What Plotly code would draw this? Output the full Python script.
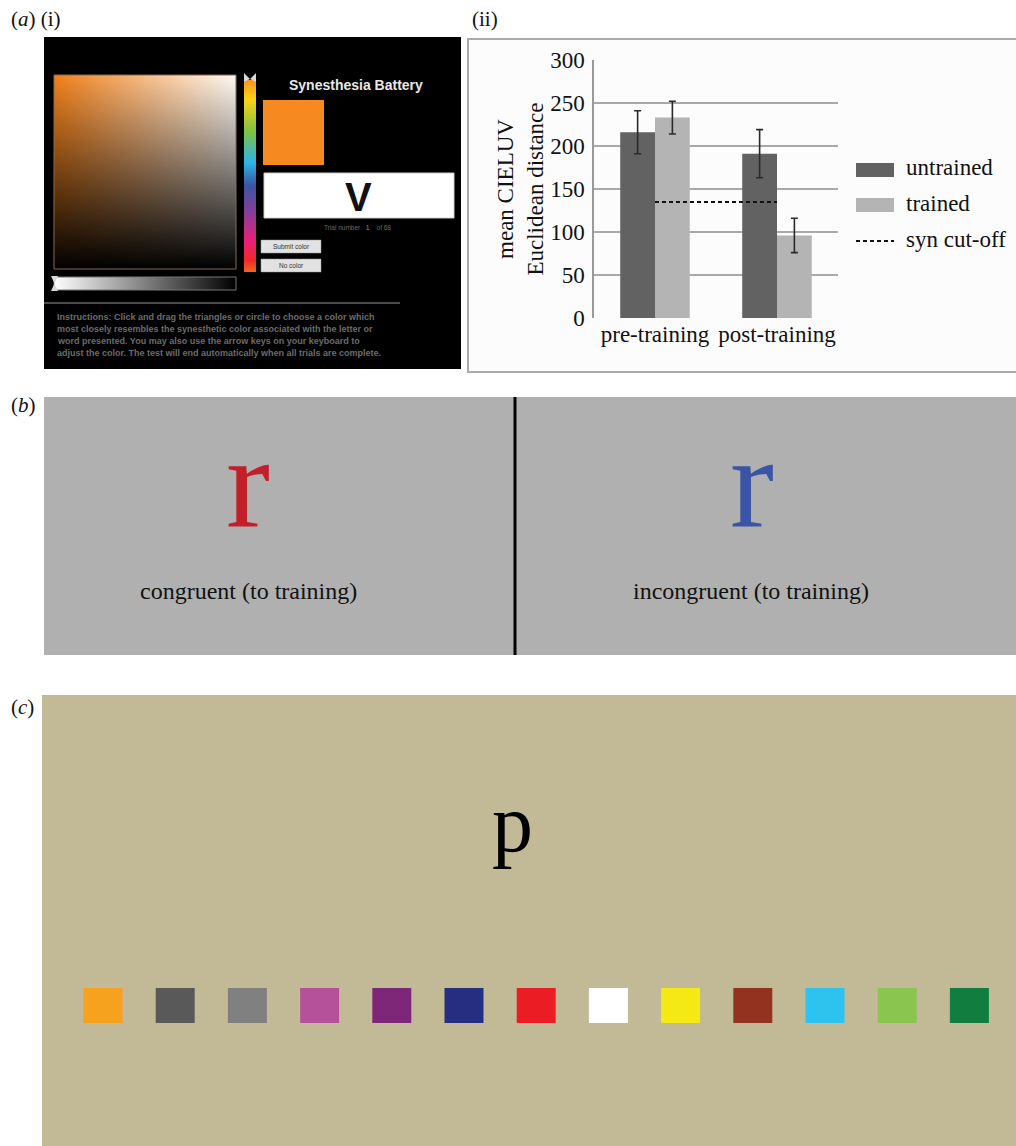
import plotly.graph_objects as go

# ---------------- data ----------------
phases = ["pre-training", "post-training"]
untrained_mean = [216, 191]
untrained_err = [25, 28]
trained_mean = [233, 96]
trained_err = [19, 20]
syn_cutoff = 135
y_ticks = [0, 50, 100, 150, 200, 250, 300]

swatch_colors = ["#f7a21f", "#595959", "#808080", "#b5519b", "#7e2779", "#262e82",
                 "#eb1c24", "#ffffff", "#f4e914", "#93331f", "#2ec3ee", "#89c54f", "#117d3e"]
swatch_index = list(range(len(swatch_colors)))
swatch_height = [1] * len(swatch_colors)

instructions = [
    "Instructions: Click and drag the triangles or circle to choose a color which",
    "most closely resembles the synesthetic color associated with the letter or",
    "word presented. You may also use the arrow keys on your keyboard to",
    "adjust the color. The test will end automatically when all trials are complete.",
]

W, H = 1016, 1146
SERIF = "Liberation Serif, Times New Roman, serif"
SANS = "Liberation Sans, Arial, sans-serif"
DARK = "#626262"
LIGHT = "#b4b4b4"


def px(x):
    return x / W


def py(y):
    return 1 - y / H


fig = go.Figure()

# ---------------- bar chart (a)(ii) ----------------
fig.add_trace(go.Bar(
    x=phases, y=untrained_mean, name="untrained", marker_color=DARK,
    marker_line_width=0,
    error_y=dict(type="data", array=untrained_err, color="#2a2a2a", thickness=1.6, width=3.5),
    xaxis="x", yaxis="y", showlegend=False))
fig.add_trace(go.Bar(
    x=phases, y=trained_mean, name="trained", marker_color=LIGHT,
    marker_line_width=0,
    error_y=dict(type="data", array=trained_err, color="#2a2a2a", thickness=1.6, width=3.5),
    xaxis="x", yaxis="y", showlegend=False))
fig.add_trace(go.Scatter(
    x=phases, y=[syn_cutoff] * len(phases), mode="lines", name="syn cut-off",
    line=dict(color="#111111", width=2, dash="4px,3px"),
    xaxis="x", yaxis="y", showlegend=False))

# ---------------- swatches (c) ----------------
fig.add_trace(go.Bar(
    x=swatch_index, y=swatch_height, width=0.54, marker_color=swatch_colors,
    marker_line_width=0, xaxis="x3", yaxis="y3", showlegend=False, hoverinfo="skip"))


# ---------------- gradient illustration pieces (page-pixel axis) ----------------
def grad_rect(x0, y0, x1, y1, orient, scale, start, stop):
    fig.add_trace(go.Scatter(
        x=[x0, x1, x1, x0, x0], y=[y0, y0, y1, y1, y0], mode="lines", fill="toself",
        line=dict(width=0), fillgradient=dict(type=orient, colorscale=scale, start=start, stop=stop),
        xaxis="x2", yaxis="y2", showlegend=False, hoverinfo="skip"))


# colour picker square
grad_rect(54, 75, 236, 269, "horizontal", [[0, "#f0801a"], [1, "#fffaf4"]], 54, 236)
grad_rect(54, 75, 236, 269, "vertical",
          [[0, "rgba(0,0,0,0)"], [0.35, "rgba(0,0,0,0.35)"], [1, "rgba(0,0,0,1)"]], 75, 269)
# hue bar
grad_rect(244, 80, 256, 272, "vertical",
          [[0, "#f7941d"], [0.1, "#fbd314"], [0.27, "#7cc242"], [0.43, "#2bb5e8"],
           [0.55, "#3a55a5"], [0.7, "#8e3b95"], [0.84, "#ec1e7a"], [0.94, "#ee2a26"],
           [1, "#f26522"]], 80, 272)
# lightness bar
grad_rect(54, 277, 236, 290, "horizontal", [[0, "#ffffff"], [1, "#000000"]], 54, 236)

shapes = []


def rect(x0, y0, x1, y1, fill, line_color=None, lw=0, layer="below"):
    shapes.append(dict(type="rect", xref="paper", yref="paper",
                       x0=px(x0), x1=px(x1), y0=py(y1), y1=py(y0),
                       fillcolor=fill, line=dict(color=line_color or fill, width=lw), layer=layer))


def line(x0, y0, x1, y1, color, lw, dash=None, layer="below"):
    d = dict(color=color, width=lw)
    if dash:
        d["dash"] = dash
    shapes.append(dict(type="line", xref="paper", yref="paper",
                       x0=px(x0), x1=px(x1), y0=py(y0), y1=py(y1), line=d, layer=layer))


# panel (a)(i) screenshot
rect(44, 37, 461, 369, "#000000")
rect(263, 100, 324, 165, "#f6891f")
rect(264, 173, 454, 218, "#ffffff", "#cccccc", 1)
rect(261, 240, 321, 253, "#e2e2e2", "#999999", 0.5)
rect(261, 259, 321, 272, "#e2e2e2", "#999999", 0.5)
line(44, 303, 400, 303, "#9a9a9a", 1)
rect(54, 75, 236, 269, "rgba(0,0,0,0)", "#8a6a50", 1, layer="above")
rect(54, 277, 236, 290, "rgba(0,0,0,0)", "#777777", 1, layer="above")
# slider triangles
shapes.append(dict(type="path", xref="paper", yref="paper", layer="above",
                   path="M {},{} L {},{} L {},{} Z M {},{} L {},{} L {},{} Z".format(
                       px(244), py(73), px(250), py(79), px(244), py(82),
                       px(256), py(73), px(250), py(79), px(256), py(82)),
                   fillcolor="#d8d8d8", line=dict(width=0)))
shapes.append(dict(type="path", xref="paper", yref="paper", layer="above",
                   path="M {},{} L {},{} L {},{} Z M {},{} L {},{} L {},{} Z".format(
                       px(51), py(276), px(58), py(276), px(54.5), py(283.5),
                       px(51), py(291), px(58), py(291), px(54.5), py(283.5)),
                   fillcolor="#d8d8d8", line=dict(width=0)))

# panel (a)(ii) frame
rect(468, 39, 1018, 372, "#fcfcfc", "#aaaaaa", 2)
# legend keys
rect(856, 163, 894, 177, DARK)
rect(856, 198, 894, 212, LIGHT)
line(856, 241, 894, 241, "#111111", 2, dash="4px,3px")

# panel (b)
rect(44, 397, 1018, 655, "#b0b0b0")
line(515, 397, 515, 655, "#000000", 3)

# panel (c)
rect(42, 695, 1018, 1148, "#c2ba96")

annotations = []


def text(x, y, s, size, color="#111111", family=SERIF, xanchor="center", yanchor="middle"):
    annotations.append(dict(xref="paper", yref="paper", x=px(x), y=py(y), text=s,
                            showarrow=False, xanchor=xanchor, yanchor=yanchor,
                            font=dict(size=size, color=color, family=family)))


# panel labels
text(9, 19, "(<i>a</i>) (i)", 21, xanchor="left")
text(470, 19, "(ii)", 21, xanchor="left")
text(9, 405, "(<i>b</i>)", 21, xanchor="left")
text(9, 707, "(<i>c</i>)", 21, xanchor="left")

# screenshot texts
text(356, 85, "<b>Synesthesia Battery</b>", 14, "#e8e8e8", SANS)
text(358, 197, "<b>V</b>", 40, "#111111", SANS)
text(357, 227, "Trial number   <b>1</b>    of 68", 6.5, "#6a6a6a", SANS)
text(291, 246.5, "Submit color", 6.5, "#333333", SANS)
text(291, 265.5, "No color", 6.5, "#333333", SANS)
for i, s in enumerate(instructions):
    text(55, 317 + 12 * i, "<b>" + s + "</b>", 9, "#6c6c6c", SANS, xanchor="left")

# legend texts
text(904, 168, "untrained", 23, "#111111", xanchor="left")
text(904, 204, "trained", 23, "#111111", xanchor="left")
text(904, 239, "syn cut-off", 23, "#111111", xanchor="left")

# panel (b) texts
text(248, 482, "r", 132, "#c11f2a")
text(752, 482, "r", 132, "#3a55a6")
text(248, 591, "congruent (to training)", 24, "#111111")
text(751, 591, "incongruent (to training)", 24, "#111111")

# panel (c) letter
text(512, 823, "p", 82, "#000000")

fig.update_layout(
    width=W, height=H, autosize=False, margin=dict(l=0, r=0, t=0, b=0, pad=0, autoexpand=False),
    paper_bgcolor="#ffffff", plot_bgcolor="rgba(0,0,0,0)",
    barmode="group", bargap=0.43, bargroupgap=0,
    showlegend=False, shapes=shapes, annotations=annotations,
    font=dict(family=SERIF, color="#111111"),
    xaxis=dict(domain=[px(594), px(838)], type="category", showgrid=False,
               showline=False, zeroline=False, ticks="", automargin=False,
               tickfont=dict(size=23, family=SERIF, color="#111111"), fixedrange=True),
    yaxis=dict(domain=[py(318), py(60)], range=[0, 300], tickvals=y_ticks,
               showgrid=True, gridcolor="#a9a9a9", gridwidth=1.5, automargin=False,
               showline=True, linecolor="#9a9a9a", linewidth=1.5, zeroline=False,
               ticks="", ticklabelstandoff=3,
               tickfont=dict(size=23, family=SERIF, color="#111111"),
               title=dict(text="mean CIELUV<br>Euclidean distance", standoff=0,
                          font=dict(size=23, family=SERIF, color="#111111")),
               fixedrange=True),
    xaxis2=dict(domain=[0, 1], range=[0, W], visible=False, fixedrange=True, anchor="y2",
                automargin=False),
    yaxis2=dict(domain=[0, 1], range=[H, 0], visible=False, fixedrange=True, anchor="x2",
                automargin=False),
    xaxis3=dict(domain=[px(66.9), px(1005.5)], range=[-0.5, 12.5], visible=False,
                fixedrange=True, anchor="y3", automargin=False),
    yaxis3=dict(domain=[py(1023), py(988)], range=[0, 1], visible=False,
                fixedrange=True, anchor="x3", automargin=False),
)

fig.write_html("out.html", config={"displayModeBar": False, "staticPlot": False},
               post_script="document.body.style.margin='0';document.body.style.overflow='hidden';")
